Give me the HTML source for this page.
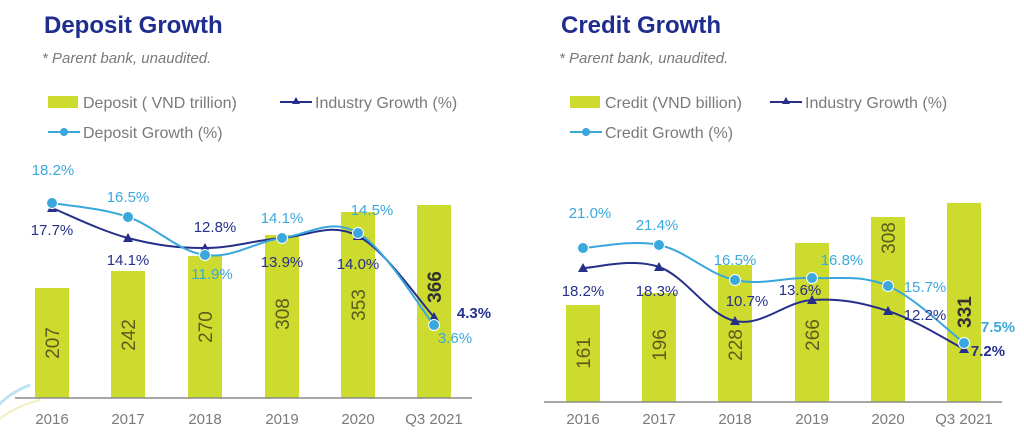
<!DOCTYPE html>
<html><head><meta charset="utf-8"><style>
body{margin:0;width:1024px;height:440px;background:#fff;overflow:hidden;font-family:"Liberation Sans",sans-serif}
svg{position:absolute;left:0;top:0}
</style></head><body>
<svg width="1024" height="440" xmlns="http://www.w3.org/2000/svg" font-family="Liberation Sans, sans-serif">
<path d="M-20 440 Q-10 400 30 385" stroke="#bfe3f5" stroke-width="3" fill="none"/>
<path d="M-20 440 Q0 410 40 400" stroke="#f3efc0" stroke-width="2" fill="none"/>
<g id="L"></g>
</svg>
<script>
const NS="http://www.w3.org/2000/svg";
const g=document.getElementById('L');
function el(t,a,txt){const e=document.createElementNS(NS,t);for(const k in a)e.setAttribute(k,a[k]);if(txt!==undefined)e.textContent=txt;g.appendChild(e);return e;}
function smooth(p){let d=`M${p[0][0]} ${p[0][1]}`;for(let i=0;i<p.length-1;i++){const p0=p[i-1]||p[i],p1=p[i],p2=p[i+1],p3=p[i+2]||p2;const t=0.18;d+=` C${p1[0]+(p2[0]-p0[0])*t} ${p1[1]+(p2[1]-p0[1])*t} ${p2[0]-(p3[0]-p1[0])*t} ${p2[1]-(p3[1]-p1[1])*t} ${p2[0]} ${p2[1]}`;}return d;}
const NAVY="#26308a",LB="#3aa8dc",GR="#cdda2e",GRAY="#7a7a7a",BL="#5c5c1e";
function chart(o){
 el('text',{x:o.tx,y:33,'font-size':24,'font-weight':'bold',fill:'#1f2e8e'},o.title);
 el('text',{x:o.tx-2,y:63,'font-size':15,'font-style':'italic',fill:GRAY},'* Parent bank, unaudited.');
 el('rect',{x:o.lx,y:96,width:30,height:12,fill:GR});
 el('text',{x:o.lx+35,y:108,'font-size':16,fill:GRAY},o.leg1);
 el('line',{x1:o.ix,y1:102,x2:o.ix+32,y2:102,stroke:NAVY,'stroke-width':2});
 el('polygon',{points:`${o.ix+16},97 ${o.ix+12},104 ${o.ix+20},104`,fill:NAVY});
 el('text',{x:o.ix+35,y:108,'font-size':16,fill:GRAY},'Industry Growth (%)');
 el('line',{x1:o.lx,y1:132,x2:o.lx+32,y2:132,stroke:LB,'stroke-width':2});
 el('circle',{cx:o.lx+16,cy:132,r:4,fill:LB});
 el('text',{x:o.lx+35,y:138,'font-size':16,fill:GRAY},o.leg2);
 o.bars.forEach((b,i)=>{const x=o.xs[i];el('rect',{x:x-17,y:b[0],width:34,height:o.base-b[0],fill:GR});
  el('text',{transform:`translate(${x+7},${b[1]}) rotate(-90)`,'text-anchor':'middle','font-size':19,fill:i==5?'#333':BL,'font-weight':i==5?'bold':'normal'},b[2]);
  el('text',{x:x,y:424,'text-anchor':'middle','font-size':15,fill:GRAY},o.xl[i]);});
 el('line',{x1:o.ax[0],y1:o.base,x2:o.ax[1],y2:o.base,stroke:'#8a8a8a','stroke-width':1.5});
 const ip=o.xs.map((x,i)=>[x,o.ind[i]]),cp=o.xs.map((x,i)=>[x,o.cr[i]]);
 el('path',{d:smooth(ip),stroke:NAVY,'stroke-width':2,fill:'none'});
 ip.forEach(p=>el('polygon',{points:`${p[0]},${p[1]-5} ${p[0]-5},${p[1]+4} ${p[0]+5},${p[1]+4}`,fill:NAVY}));
 el('path',{d:smooth(cp),stroke:LB,'stroke-width':2,fill:'none'});
 cp.forEach(p=>el('circle',{cx:p[0],cy:p[1],r:5.5,fill:LB,stroke:'#fff','stroke-width':1}));
 o.labels.forEach(l=>el('text',{x:l[0],y:l[1],'text-anchor':'middle','font-size':15,fill:l[3]?NAVY:LB,'font-weight':l[4]?'bold':'normal'},l[2]));
}
chart({title:'Deposit Growth',tx:44,lx:48,ix:280,leg1:'Deposit ( VND trillion)',leg2:'Deposit Growth (%)',
 xs:[52,128,205,282,358,434],base:398,ax:[15,472],xl:['2016','2017','2018','2019','2020','Q3 2021'],
 bars:[[288,343,'207'],[271,335,'242'],[256,327,'270'],[235,314,'308'],[212,305,'353'],[205,287,'366']],
 ind:[208,238,248,238,236,317],cr:[203,217,255,238,233,325],
 labels:[[53,175,'18.2%'],[128,202,'16.5%'],[52,235,'17.7%',1],[215,232,'12.8%',1],[128,265,'14.1%',1],[212,279,'11.9%'],[282,223,'14.1%'],[282,267,'13.9%',1],[372,215,'14.5%'],[358,269,'14.0%',1],[474,318,'4.3%',1,1],[455,343,'3.6%']]});
chart({title:'Credit Growth',tx:561,lx:570,ix:770,leg1:'Credit (VND billion)',leg2:'Credit Growth (%)',
 xs:[583,659,735,812,888,964],base:402,ax:[544,1002],xl:['2016','2017','2018','2019','2020','Q3 2021'],
 bars:[[305,353,'161'],[293,345,'196'],[265,345,'228'],[243,335,'266'],[217,238,'308'],[203,312,'331']],
 ind:[268,267,321,300,311,349],cr:[248,245,280,278,286,343],
 labels:[[590,218,'21.0%'],[657,230,'21.4%'],[583,296,'18.2%',1],[657,296,'18.3%',1],[735,265,'16.5%'],[747,306,'10.7%',1],[842,265,'16.8%'],[800,295,'13.6%',1],[925,292,'15.7%'],[925,320,'12.2%',1],[998,332,'7.5%',0,1],[988,356,'7.2%',1,1]]});
</script>
</body></html>
